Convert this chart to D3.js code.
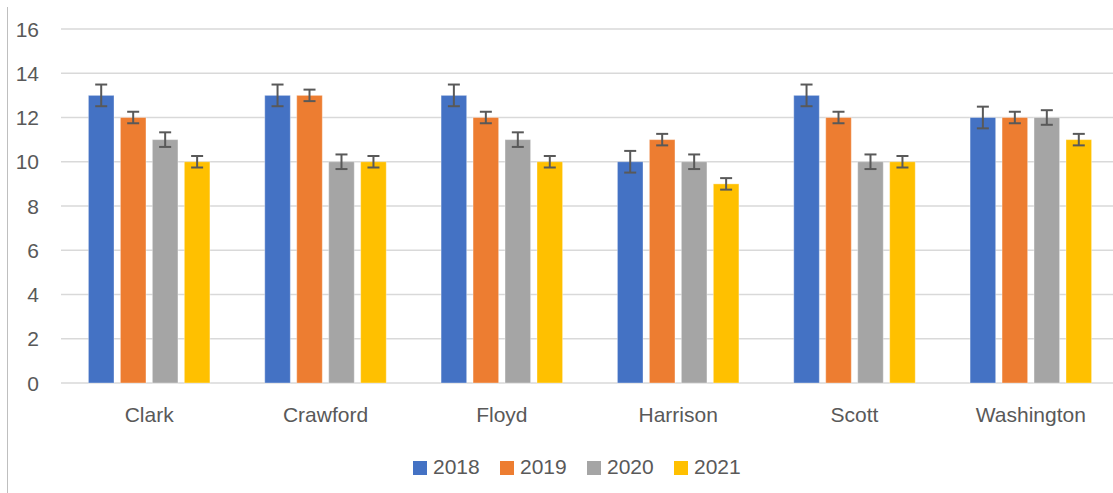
<!DOCTYPE html>
<html>
<head>
<meta charset="utf-8">
<script src="https://cdn.jsdelivr.net/npm/d3@7"></script>
<style>
    html, body { margin: 0; padding: 0; background: #fff; }
    svg { display: block; }
</style>
</head>
<body>
<div id="chart"></div>
<script>
// Chart data
const counties = ['Clark', 'Crawford', 'Floyd', 'Harrison', 'Scott', 'Washington'];
const years = ['2018', '2019', '2020', '2021'];
const values2018 = [13, 13, 13, 10, 13, 12];
const values2019 = [12, 13, 12, 11, 12, 12];
const values2020 = [11, 10, 11, 10, 10, 12];
const values2021 = [10, 10, 10, 9, 10, 11];
const errors2018 = [0.49, 0.49, 0.49, 0.49, 0.49, 0.49];
const errors2019 = [0.26, 0.26, 0.26, 0.26, 0.26, 0.26];
const errors2020 = [0.33, 0.33, 0.33, 0.33, 0.33, 0.33];
const errors2021 = [0.26, 0.26, 0.26, 0.26, 0.26, 0.26];
const yTicks = [0, 2, 4, 6, 8, 10, 12, 14, 16];

const seriesValues = [values2018, values2019, values2020, values2021];
const seriesErrors = [errors2018, errors2019, errors2020, errors2021];
const colors = ['#4472C4', '#ED7D31', '#A5A5A5', '#FFC000'];

const width = 1113;
const height = 493;
const plot = { left: 61, right: 1119, top: 29, bottom: 383 };
const textColor = '#595959';
const font = '"Liberation Sans", Arial, sans-serif';

// Flatten into one row per bar
const bars = [];
counties.forEach((county, i) => {
    years.forEach((year, j) => {
        bars.push({
            county: county,
            year: year,
            value: seriesValues[j][i],
            err: seriesErrors[j][i],
            color: colors[j]
        });
    });
});

const svg = d3.select('#chart')
    .append('svg')
    .attr('width', width)
    .attr('height', height);

// Scales
const x0 = d3.scaleBand()
    .domain(counties)
    .range([plot.left, plot.right]);

const groupWidth = 121.5;
const groupOffset = (x0.bandwidth() - groupWidth) / 2;
const x1 = d3.scaleBand()
    .domain(years)
    .range([0, groupWidth])
    .paddingInner(0.2);

const y = d3.scaleLinear()
    .domain([0, 16])
    .range([plot.bottom, plot.top]);

// Left border line of the chart area
svg.append('line')
    .attr('x1', 7.5).attr('x2', 7.5)
    .attr('y1', 7).attr('y2', height)
    .attr('stroke', '#BFBFBF')
    .attr('stroke-width', 1);

// Gridlines
svg.append('g')
    .selectAll('line')
    .data(yTicks)
    .enter()
    .append('line')
    .attr('x1', plot.left)
    .attr('x2', plot.right)
    .attr('y1', d => y(d))
    .attr('y2', d => y(d))
    .attr('stroke', '#D9D9D9')
    .attr('stroke-width', 1.5);

// Y axis labels
svg.append('g')
    .selectAll('text')
    .data(yTicks)
    .enter()
    .append('text')
    .text(d => d)
    .attr('x', 39)
    .attr('y', d => y(d))
    .attr('text-anchor', 'end')
    .attr('dominant-baseline', 'central')
    .attr('fill', textColor)
    .style('font-family', font)
    .style('font-size', '21px');

// Bars
svg.append('g')
    .selectAll('rect')
    .data(bars)
    .enter()
    .append('rect')
    .attr('x', d => x0(d.county) + groupOffset + x1(d.year))
    .attr('y', d => y(d.value))
    .attr('width', x1.bandwidth())
    .attr('height', d => y(0) - y(d.value))
    .attr('fill', d => d.color)
    .attr('stroke', 'rgba(255,255,255,0.35)')
    .attr('stroke-width', 1);

// Error bars
const errG = svg.append('g')
    .attr('stroke', '#595959')
    .attr('stroke-width', 2);

bars.forEach(d => {
    const cx = x0(d.county) + groupOffset + x1(d.year) + x1.bandwidth() / 2;
    const yTop = y(d.value + d.err);
    const yBot = y(d.value - d.err);
    errG.append('line')
        .attr('x1', cx).attr('x2', cx)
        .attr('y1', yTop).attr('y2', yBot);
    errG.append('line')
        .attr('x1', cx - 6).attr('x2', cx + 6)
        .attr('y1', yTop).attr('y2', yTop);
    errG.append('line')
        .attr('x1', cx - 6).attr('x2', cx + 6)
        .attr('y1', yBot).attr('y2', yBot);
});

// Category labels
svg.append('g')
    .selectAll('text')
    .data(counties)
    .enter()
    .append('text')
    .text(d => d)
    .attr('x', d => x0(d) + x0.bandwidth() / 2)
    .attr('y', 422)
    .attr('text-anchor', 'middle')
    .attr('fill', textColor)
    .style('font-family', font)
    .style('font-size', '21px');

// Legend
const legendX = 413;
const legendStep = 87;
const legend = svg.append('g')
    .selectAll('g')
    .data(years)
    .enter()
    .append('g')
    .attr('transform', (d, i) => `translate(${legendX + i * legendStep}, 0)`);

legend.append('rect')
    .attr('x', 0)
    .attr('y', 461)
    .attr('width', 14)
    .attr('height', 14)
    .attr('fill', (d, i) => colors[i]);

legend.append('text')
    .text(d => d)
    .attr('x', 20)
    .attr('y', 474)
    .attr('fill', textColor)
    .style('font-family', font)
    .style('font-size', '21px');
</script>
</body>
</html>
